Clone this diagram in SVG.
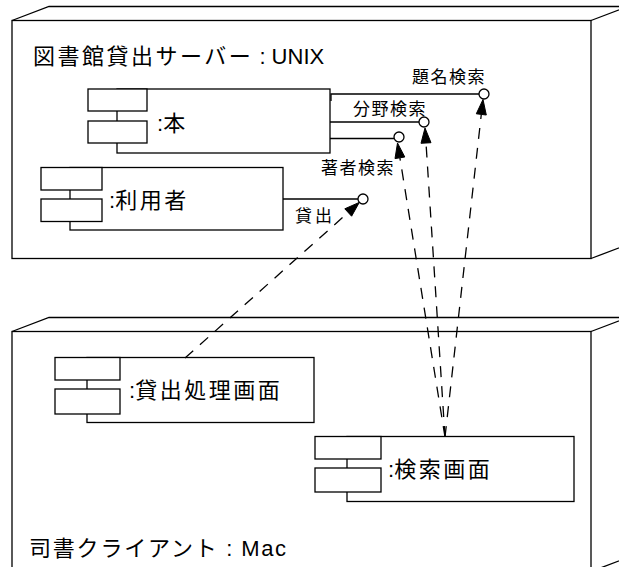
<svg xmlns="http://www.w3.org/2000/svg" width="619" height="567" viewBox="0 0 619 567">
  <style>
    .ln { fill: none; stroke: #000; stroke-width: 1.3; }
    .box { fill: #fff; stroke: #000; stroke-width: 1.3; }
    .dash { fill: none; stroke: #000; stroke-width: 1.3; stroke-dasharray: 11 9; }
    .head { fill: #000; stroke: #000; stroke-width: 1; stroke-linejoin: miter; }
    .ifc { fill: #fff; stroke: #000; stroke-width: 1.3; }
    text { font-family: "Liberation Sans", "Noto Sans CJK JP", sans-serif; fill: #000; }
    .big { font-size: 22px; }
    .big .cj { letter-spacing: 2.5px; }
    .small { font-size: 17px; letter-spacing: 1.5px; }
  </style>

  <!-- server node (3D box) -->
  <g id="node-server">
    <rect class="box" x="12" y="20.5" width="579" height="238"/>
    <path class="ln" d="M12,20.5 L49,6.5 H628 M591,20.5 L628,6.5 M591,258.5 L628,244.5"/>
    <text class="big" x="33" y="64"><tspan class="cj">図書館貸出サーバー</tspan> : UNIX</text>
  </g>

  <!-- client node (3D box) -->
  <g id="node-client">
    <rect class="box" x="12" y="331.5" width="579" height="240"/>
    <path class="ln" d="M12,331.5 L49,317.5 H628 M591,331.5 L628,317.5 M591,571.5 L628,557.5"/>
    <text class="big" x="29" y="556"><tspan class="cj" style="letter-spacing:1.8px">司書クライアント</tspan><tspan style="letter-spacing:1.5px"> : Mac</tspan></text>
  </g>

  <!-- component :本 -->
  <g id="comp-book">
    <rect class="box" x="117" y="89" width="213" height="64"/>
    <rect class="box" x="88" y="89" width="59" height="22"/>
    <rect class="box" x="88" y="121" width="59" height="22"/>
    <text class="big" x="157" y="131">:<tspan class="cj">本</tspan></text>
  </g>

  <!-- component :利用者 -->
  <g id="comp-user">
    <rect class="box" x="70" y="167.5" width="213" height="62.5"/>
    <rect class="box" x="41" y="167.5" width="61" height="22.5"/>
    <rect class="box" x="41" y="199" width="61" height="22.5"/>
    <text class="big" x="109" y="208">:<tspan class="cj">利用者</tspan></text>
  </g>

  <!-- component :貸出処理画面 -->
  <g id="comp-lending-ui">
    <rect class="box" x="87" y="357.5" width="227" height="65"/>
    <rect class="box" x="55" y="357.5" width="65" height="22.5"/>
    <rect class="box" x="55" y="389" width="65" height="25"/>
    <text class="big" x="129" y="398">:<tspan class="cj">貸出処理画面</tspan></text>
  </g>

  <!-- component :検索画面 -->
  <g id="comp-search-ui">
    <rect class="box" x="347" y="436.5" width="227" height="65"/>
    <rect class="box" x="315" y="436.5" width="66" height="22.5"/>
    <rect class="box" x="315" y="468" width="66" height="24"/>
    <text class="big" x="388" y="477">:<tspan class="cj">検索画面</tspan></text>
  </g>

  <!-- provided interfaces (lollipops) -->
  <g id="interfaces">
    <path class="ln" d="M331,101 V94 H479"/>
    <circle class="ifc" cx="484" cy="94" r="5"/>
    <text class="small" x="412" y="83">題名検索</text>

    <path class="ln" d="M330,122 H419"/>
    <circle class="ifc" cx="424" cy="122" r="5"/>
    <text class="small" x="353" y="115">分野検索</text>

    <path class="ln" d="M330,138.5 H394"/>
    <circle class="ifc" cx="399" cy="137" r="5"/>
    <text class="small" x="321" y="174">著者検索</text>

    <path class="ln" d="M283,199 H358"/>
    <circle class="ifc" cx="363" cy="199" r="5"/>
    <text class="small" x="295" y="222" style="letter-spacing:3px">貸出</text>
  </g>

  <!-- dependency connectors -->
  <g id="connectors">
    <path class="dash" d="M185,358 L348.2,212.5"/>
    <polygon class="head" points="359.3,202.4 351.6,216.2 344.8,208.8"/>

    <path class="dash" d="M445,437 L399.9,157.8"/>
    <polygon class="head" points="397.5,143 404.8,157 395,158.6"/>

    <path class="dash" d="M445,437 L426,143"/>
    <polygon class="head" points="425,128 431,142.7 421,143.3"/>

    <path class="dash" d="M445,437 L481.3,114.4"/>
    <polygon class="head" points="483,99.5 486.3,115 476.3,113.8"/>
  </g>
</svg>
